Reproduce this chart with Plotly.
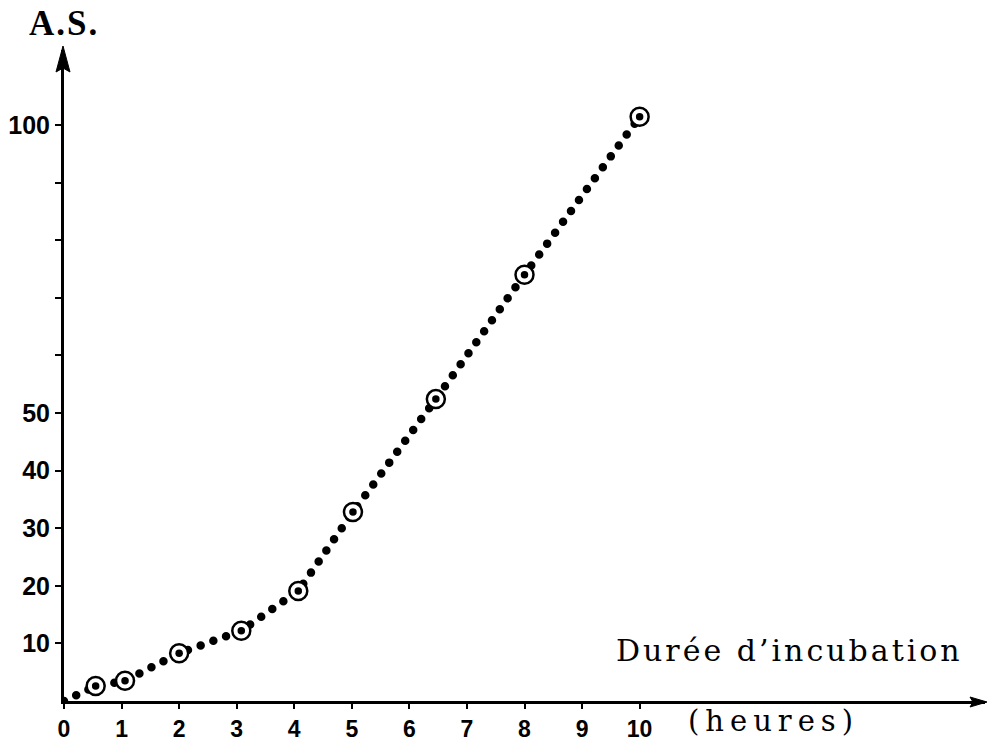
import plotly.graph_objects as go

# Data
hours = [0, 0.55, 1.06, 2.0, 3.08, 4.07, 5.02, 6.46, 8.0, 10.0]
activity = [0, 2.6, 3.5, 8.3, 12.2, 19.1, 32.8, 52.4, 74.0, 101.4]
meas_hours = [0.55, 1.06, 2.0, 3.08, 4.07, 5.02, 6.46, 8.0, 10.0]
meas_activity = [2.6, 3.5, 8.3, 12.2, 19.1, 32.8, 52.4, 74.0, 101.4]

x_tickvals = [0, 1, 2, 3, 4, 5, 6, 7, 8, 9, 10]
x_ticktext = ["0", "1", "2", "3", "4", "5", "6", "7", "8", "9", "10"]
y_tickvals = [10, 20, 30, 40, 50, 60, 70, 80, 90, 100]
y_ticktext = ["10", "20", "30", "40", "50", "", "", "", "", "100"]

fig = go.Figure()
fig.add_trace(go.Scatter(
    x=hours, y=activity, mode="lines",
    line=dict(color="black", width=8.5, dash="0px,13.5px"),
    hoverinfo="skip", showlegend=False))
fig.add_trace(go.Scatter(
    x=meas_hours, y=meas_activity, mode="markers",
    marker=dict(symbol="circle", size=18, color="white",
                line=dict(color="black", width=2.5)),
    showlegend=False))
fig.add_trace(go.Scatter(
    x=meas_hours, y=meas_activity, mode="markers",
    marker=dict(symbol="circle", size=7.5, color="black"),
    showlegend=False))

fig.update_layout(
    width=988, height=745,
    margin=dict(l=64, r=3, t=50, b=42),
    paper_bgcolor="white", plot_bgcolor="white",
    xaxis=dict(range=[0, 16], showgrid=False, zeroline=False,
               showline=True, linecolor="black", linewidth=3,
               tickvals=x_tickvals, ticktext=x_ticktext,
               ticks="outside", ticklen=5, tickwidth=2, tickcolor="black",
               tickfont=dict(family="Liberation Sans", size=23, color="black", weight="bold")),
    yaxis=dict(range=[0, 113], showgrid=False, zeroline=False,
               showline=True, linecolor="black", linewidth=3,
               tickvals=y_tickvals, ticktext=y_ticktext,
               ticks="outside", ticklen=6, tickwidth=2, tickcolor="black",
               tickfont=dict(family="Liberation Sans", size=25, color="black", weight="bold")),
)

# axis arrowheads (pixel-sized paths anchored at the axis ends)
fig.add_shape(type="path", xref="paper", yref="paper",
              xsizemode="pixel", ysizemode="pixel", xanchor=0, yanchor=1,
              path="M-1,4 L-8,-22 L-1,-18 L6,-22 Z",
              fillcolor="black", line=dict(color="black", width=1))
fig.add_shape(type="path", xref="paper", yref="paper",
              xsizemode="pixel", ysizemode="pixel", xanchor=1, yanchor=0,
              path="M2,-1 L-15,-6 L-12,-1 L-15,4 Z",
              fillcolor="black", line=dict(color="black", width=1))

# axis titles
fig.add_annotation(x=0, y=1, xref="x", yref="paper", yanchor="bottom", xanchor="center",
                   yshift=5, text="<b>A.S.</b>", showarrow=False,
                   font=dict(family="Liberation Serif", size=35, color="black"))
fig.add_annotation(x=12.6, y=8.7, xref="x", yref="y", xanchor="center", yanchor="middle",
                   text="Durée d’incubation", showarrow=False,
                   font=dict(family="DejaVu Serif", size=30, color="black"))
fig.add_annotation(x=12.33, y=0, xref="x", yref="paper", xanchor="center", yanchor="top",
                   yshift=-1, text="(heures)", showarrow=False,
                   font=dict(family="DejaVu Serif", size=29, color="black"))

post = """
document.documentElement.style.margin='0';
document.body.style.margin='0';
document.body.style.padding='0';
var s=document.createElement('style');
s.textContent='.js-line{stroke-linecap:round !important;}';
document.head.appendChild(s);
document.querySelectorAll('.annotation-text').forEach(function(t){
  var c=t.textContent;
  if(c.indexOf('incubation')>=0){t.style.letterSpacing='3px';}
  if(c.indexOf('heures')>=0){t.style.letterSpacing='6px';}
  if(c.indexOf('A.S.')>=0){t.style.letterSpacing='2px';}
});
"""
fig.write_html("out.html", post_script=post, config={"displayModeBar": False})
